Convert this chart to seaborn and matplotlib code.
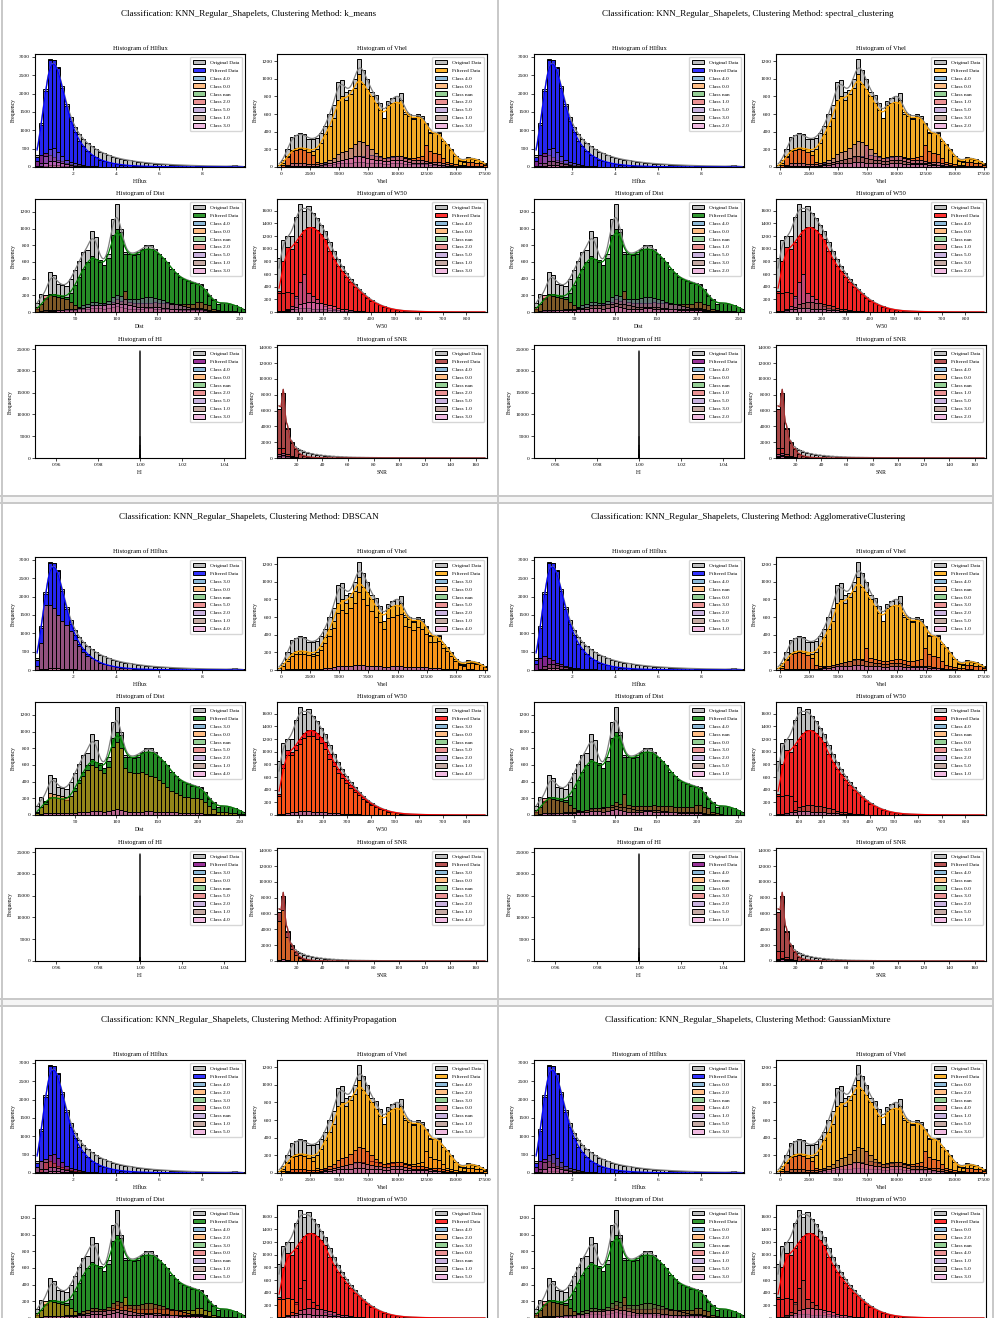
import numpy as np
import pandas as pd
import matplotlib.pyplot as plt
from matplotlib.lines import Line2D
from matplotlib.patches import Rectangle
import seaborn as sns

W, H = 994, 1318
NBINS = 50

METHODS = ["k_means", "spectral_clustering", "DBSCAN",
           "AgglomerativeClustering", "AffinityPropagation", "GaussianMixture"]

# legend order of the classes in every panel
CLASS_ORDER = {
    "k_means": ["4.0", "0.0", "nan", "2.0", "5.0", "1.0", "3.0"],
    "spectral_clustering": ["4.0", "0.0", "nan", "1.0", "5.0", "3.0", "2.0"],
    "DBSCAN": ["3.0", "0.0", "nan", "5.0", "2.0", "1.0", "4.0"],
    "AgglomerativeClustering": ["4.0", "nan", "0.0", "3.0", "2.0", "5.0", "1.0"],
    "AffinityPropagation": ["4.0", "2.0", "3.0", "0.0", "nan", "1.0", "5.0"],
    "GaussianMixture": ["0.0", "2.0", "nan", "4.0", "1.0", "5.0", "3.0"],
}
# which class profile (A main, B second, C spread, T tiny, X dominant) each class has
CLASS_PROFILE = {
    "k_means": ["T", "T", "T", "A", "B", "T", "C"],
    "spectral_clustering": ["T", "T", "T", "A", "B", "C", "T"],
    "DBSCAN": ["T", "X", "T", "T", "T", "T", "T"],
    "AgglomerativeClustering": ["T", "T", "T", "A", "T", "C", "T"],
    "AffinityPropagation": ["T", "A", "T", "B", "C", "T", "T"],
    "GaussianMixture": ["T", "T", "T", "A", "T", "B", "C"],
}

# ---- HIflux (50 bins, 0.25 .. 9.98)
HIFLUX_ORIG = [320, 1200, 2110, 2930, 2920, 2720, 2200, 1720, 1350, 1080, 900, 760, 640, 560, 480, 420, 370, 320, 280, 250,
               220, 200, 180, 160, 145, 130, 118, 105, 95, 88, 80, 72, 66, 60, 55, 50, 46, 42, 38, 35,
               32, 30, 28, 26, 24, 22, 21, 45, 18, 16]
HIFLUX_FILT = [260, 1150, 2080, 2920, 2900, 2700, 2150, 1650, 1250, 950, 720, 560, 430, 330, 260, 200, 160, 125, 100, 80,
               65, 52, 42, 35, 28, 24, 20, 17, 14, 12, 10, 9, 8, 7, 6, 5, 5, 4, 4, 3, 3, 3, 2, 2, 2, 2, 1, 2, 1, 1]
HIFLUX_A = [150, 330, 380, 330, 260, 200, 150, 110, 80, 60, 45, 35, 25, 20, 15, 12, 10, 8, 6, 5]
HIFLUX_B = [20, 120, 300, 500, 530, 420, 300, 200, 140, 100, 70, 50, 35, 25, 18, 12, 8, 5, 3, 2]
HIFLUX_C = [5, 40, 100, 150, 160, 130, 100, 70, 50, 35, 25, 18, 12, 8, 5, 3, 2]
HIFLUX_T = [5, 20, 40, 60, 60, 50, 40, 30, 20, 15, 10, 8, 6, 4, 3, 2, 1]
HIFLUX_X = [100, 730, 1770, 1770, 1680, 1510, 1330, 1230, 1055, 830, 640, 500, 385, 320, 260, 200, 160, 125, 100, 80,
            65, 52, 42, 35, 28, 24, 20, 17, 14, 12, 10, 9, 8, 7, 6, 5]

# ---- Vhel (50 bins, -374 .. 17700)
VHEL_ORIG = [20, 80, 200, 340, 360, 380, 370, 320, 315, 330, 380, 470, 600, 700, 960, 990, 850, 870, 1000, 1220,
             1100, 1000, 850, 820, 720, 560, 750, 780, 810, 840, 620, 600, 560, 600, 580, 500, 400, 390, 400, 300,
             260, 200, 130, 80, 70, 110, 100, 90, 70, 40]
VHEL_FILT = [0, 50, 120, 190, 210, 220, 215, 200, 185, 200, 270, 370, 460, 560, 760, 800, 760, 830, 900, 1050,
             940, 880, 800, 720, 650, 560, 700, 720, 740, 760, 600, 580, 540, 580, 560, 490, 380, 380, 390, 300,
             250, 190, 120, 70, 60, 100, 95, 85, 65, 35]
VHEL_A = [0, 20, 110, 180, 190, 200, 190, 170, 140, 60, 40, 40, 50, 60, 70, 80, 90, 100, 110, 120,
          130, 250, 140, 120, 110, 100, 100, 110, 120, 120, 110, 100, 100, 110, 120, 250, 180, 160, 150, 100,
          60, 40, 30, 20, 20, 60, 60, 50, 40, 20]
VHEL_B = [0, 5, 20, 40, 40, 40, 40, 35, 30, 30, 40, 60, 80, 100, 150, 170, 180, 220, 260, 300,
          280, 250, 200, 160, 130, 100, 110, 120, 120, 120, 100, 90, 80, 80, 80, 70, 60, 55, 55, 40,
          30, 25, 15, 10, 8, 12, 12, 10, 8, 4]
VHEL_C = [0, 0, 5, 10, 10, 10, 10, 10, 10, 15, 20, 30, 40, 60, 70, 80, 90, 100, 120, 130,
          110, 100, 90, 80, 80, 70, 70, 80, 80, 80, 70, 60, 50, 50, 50, 45, 40, 30, 25, 20,
          15, 10, 8, 5, 5, 5, 5, 3, 2, 1]
VHEL_T = [0, 2, 8, 12, 12, 12, 12, 10, 10, 12, 15, 20, 25, 30, 40, 45, 45, 50, 55, 60,
          55, 50, 45, 40, 40, 35, 35, 40, 40, 40, 35, 30, 30, 30, 30, 30, 25, 20, 20, 15,
          12, 10, 8, 5, 5, 6, 6, 5, 4, 2]
VHEL_X = [0, 40, 100, 160, 180, 185, 180, 170, 155, 170, 230, 310, 390, 480, 650, 680, 650, 700, 760, 880,
          800, 740, 670, 600, 540, 470, 590, 600, 620, 640, 500, 490, 450, 490, 470, 410, 320, 320, 330, 250,
          210, 160, 100, 60, 50, 85, 80, 70, 55, 30]

# ---- Dist (50 bins, 0.8 .. 256.9)
DIST_ORIG = [110, 216, 170, 480, 440, 340, 320, 310, 390, 500, 610, 720, 740, 970, 900, 620, 560, 700, 1110, 1290,
             1000, 720, 700, 700, 720, 760, 800, 800, 760, 700, 650, 600, 520, 470, 420, 400, 380, 360, 350, 330,
             280, 200, 150, 100, 110, 110, 100, 80, 60, 40]
DIST_FILT = [30, 100, 150, 220, 210, 200, 190, 180, 230, 320, 420, 520, 600, 670, 640, 600, 560, 650, 920, 1000,
             960, 700, 690, 680, 700, 740, 760, 760, 740, 700, 650, 600, 520, 470, 420, 390, 370, 350, 340, 320,
             270, 190, 140, 100, 110, 110, 100, 80, 60, 40]
DIST_A = [60, 100, 200, 200, 190, 180, 170, 150, 120, 80, 60, 50, 60, 70, 80, 80, 90, 100, 120, 150,
          130, 250, 120, 110, 110, 110, 110, 110, 120, 110, 110, 110, 110, 100, 100, 100, 100, 100, 120, 120,
          100, 80, 40, 20, 10, 5, 5, 5, 5, 0]
DIST_B = [0, 5, 10, 20, 20, 20, 20, 20, 25, 40, 60, 80, 100, 120, 120, 110, 110, 130, 180, 200,
          190, 150, 150, 150, 160, 170, 180, 180, 170, 160, 140, 120, 100, 90, 80, 70, 60, 50, 50, 45,
          35, 25, 15, 10, 10, 10, 8, 6, 4, 2]
DIST_C = [0, 0, 5, 10, 15, 20, 25, 30, 35, 40, 45, 50, 60, 80, 80, 80, 80, 90, 100, 110,
          100, 90, 80, 70, 60, 60, 60, 60, 60, 60, 50, 50, 40, 40, 40, 40, 40, 35, 35, 30,
          20, 15, 10, 5, 5, 5, 3, 2, 1, 0]
DIST_T = [5, 10, 20, 25, 25, 20, 20, 20, 20, 25, 30, 35, 40, 50, 50, 45, 40, 45, 60, 70,
          60, 45, 40, 40, 40, 40, 45, 45, 40, 40, 35, 35, 30, 30, 25, 25, 25, 20, 20, 20,
          15, 10, 8, 5, 5, 5, 5, 4, 3, 2]
DIST_X = [20, 90, 130, 260, 250, 240, 230, 220, 230, 290, 380, 470, 540, 600, 580, 540, 500, 580, 820, 870,
          800, 560, 520, 500, 500, 510, 490, 470, 450, 420, 380, 340, 290, 260, 240, 220, 210, 200, 200, 190,
          150, 110, 70, 40, 30, 30, 25, 20, 15, 10]

# ---- W50 (50 bins, 6 .. 886)
W50_ORIG = [850, 1140, 1200, 1200, 1500, 1700, 1600, 1680, 1560, 1480, 1380, 1280, 1100, 960, 830, 720, 620, 520, 440, 370,
            300, 240, 190, 150, 115, 88, 65, 48, 36, 27, 20, 15, 12, 10, 8, 6, 5, 4, 3, 3, 2, 2, 2, 1, 1, 1, 1, 1, 1, 1]
W50_FILT = [330, 800, 1020, 1000, 1100, 1200, 1300, 1340, 1350, 1300, 1230, 1150, 960, 840, 730, 640, 560, 470, 400, 340,
            280, 220, 175, 135, 105, 80, 60, 44, 33, 24, 18, 14, 11, 9, 7, 5, 4, 3, 3, 2, 2, 1, 1, 1, 1, 1, 0, 0, 0, 0]
W50_A = [300, 300, 320, 300, 220, 120, 60, 35, 20, 12, 8, 5, 3, 2, 1]
W50_B = [0, 10, 40, 100, 250, 480, 600, 300, 250, 200, 150, 100, 70, 50, 30, 20, 10, 5]
W50_C = [0, 5, 20, 40, 80, 120, 150, 160, 160, 150, 140, 130, 110, 90, 70, 50, 40, 30, 20, 15, 10, 5]
W50_T = [10, 20, 30, 40, 50, 60, 60, 60, 55, 50, 45, 40, 35, 30, 25, 20, 15, 12, 10, 8, 6, 4, 3, 2, 1]
W50_X = [300, 750, 950, 940, 1030, 1120, 1220, 1250, 1250, 1200, 1130, 1050, 880, 770, 670, 590, 510, 430, 370, 310,
         255, 200, 160, 125, 95, 72, 55, 40, 30, 22, 16, 12, 10, 8, 6, 4, 3, 2, 2, 1]

# ---- SNR (50 bins, 4.5 .. 168.8)
SNR_ORIG = [6210, 8210, 3750, 2000, 1320, 1000, 800, 650, 520, 430, 360, 300, 250, 210, 180, 150, 130, 110, 95, 85,
            75, 65, 58, 52, 46, 40, 36, 32, 28, 25, 22, 20, 18, 16, 14, 13, 12, 11, 10, 9, 8, 7, 6, 6, 5, 5, 4, 4, 3, 3]
SNR_FILT = [6200, 8200, 3700, 1900, 1100, 500, 250, 150, 80, 50, 30, 20, 15, 10, 8, 6, 5, 4, 3, 2, 2, 1, 1, 1, 1]
SNR_A = [1300, 1300, 500, 200, 80, 40, 20, 10, 5]
SNR_B = [500, 600, 300, 120, 50, 20, 10, 5]
SNR_C = [300, 400, 200, 90, 40, 15, 6, 2]
SNR_T = [150, 200, 100, 50, 25, 10, 5, 2]
SNR_X = [5000, 6500, 3000, 1500, 800, 350, 170, 100, 55, 35, 20, 12, 8, 5]

# ---- HI (every value is 1.0)
HI_ORIG = [24700]
HI_FILT = [24500]
HI_A, HI_B, HI_C, HI_T, HI_X = [3000], [5000], [2000], [800], [15000]

VARS = {
    "HIflux": dict(rng=(0.25, 9.98), orig=HIFLUX_ORIG, filt=HIFLUX_FILT, color="blue", bw=0.17,
                   cls=dict(A=HIFLUX_A, B=HIFLUX_B, C=HIFLUX_C, T=HIFLUX_T, X=HIFLUX_X)),
    "Vhel": dict(rng=(-374, 17700), orig=VHEL_ORIG, filt=VHEL_FILT, color="orange", bw=320,
                 cls=dict(A=VHEL_A, B=VHEL_B, C=VHEL_C, T=VHEL_T, X=VHEL_X)),
    "Dist": dict(rng=(0.8, 256.9), orig=DIST_ORIG, filt=DIST_FILT, color="green", bw=4.6,
                 cls=dict(A=DIST_A, B=DIST_B, C=DIST_C, T=DIST_T, X=DIST_X)),
    "W50": dict(rng=(6, 886), orig=W50_ORIG, filt=W50_FILT, color="red", bw=16,
                cls=dict(A=W50_A, B=W50_B, C=W50_C, T=W50_T, X=W50_X)),
    "HI": dict(rng=None, orig=HI_ORIG, filt=HI_FILT, color="purple", bw=None,
               cls=dict(A=HI_A, B=HI_B, C=HI_C, T=HI_T, X=HI_X)),
    "SNR": dict(rng=(4.5, 168.8), orig=SNR_ORIG, filt=SNR_FILT, color="brown", bw=1.3,
                cls=dict(A=SNR_A, B=SNR_B, C=SNR_C, T=SNR_T, X=SNR_X)),
}
GRID = [["HIflux", "Vhel"], ["Dist", "W50"], ["HI", "SNR"]]

CLASS_COLORS = sns.color_palette("tab10", 7)

# pixel layout
PANEL_X = [0, 499]
PANEL_Y = [0, 503, 1006]
AX_LEFT = [35, 277]
AX_TOP = [54, 199, 345]
AX_W, AX_H = 210, 113


def bins_for(spec):
    if spec["rng"] is None:
        return [1.0, 1.0], np.array([1.0])
    edges = np.linspace(spec["rng"][0], spec["rng"][1], NBINS + 1)
    return edges.tolist(), (edges[:-1] + edges[1:]) / 2


def padded(counts, n):
    c = np.zeros(n)
    c[:len(counts)] = counts
    return c


def bw_method(centers, counts, bw):
    w = counts / counts.sum()
    mu = np.sum(w * centers)
    var = np.sum(w * (centers - mu) ** 2) / (1 - np.sum(w ** 2))
    return float(bw / np.sqrt(var))


def hist(ax, centers, counts, edges, color, alpha, kde_bw=None, snap=None):
    df = pd.DataFrame({"v": centers, "w": counts})
    kws = dict(data=df, x="v", weights="w", bins=edges, color=color, alpha=alpha,
               edgecolor="black", linewidth=0.7, ax=ax)
    if snap is not None:
        kws["snap"] = snap
    if kde_bw is not None:
        kws.update(kde=True, kde_kws={"bw_method": bw_method(centers, counts, kde_bw)},
                   line_kws={"linewidth": 0.9})
    sns.histplot(**kws)


def draw_var(ax, var, method):
    spec = VARS[var]
    edges, centers = bins_for(spec)
    n = len(centers)
    snap = False if spec["rng"] is None else None
    orig = padded(spec["orig"], n)
    filt = padded(spec["filt"], n)
    hist(ax, centers, orig, edges, "gray", 0.5, spec["bw"], snap)
    hist(ax, centers, filt, edges, spec["color"], 0.8, spec["bw"], snap)
    labels = ["Original Data", "Filtered Data"]
    for i, (cls, prof) in enumerate(zip(CLASS_ORDER[method], CLASS_PROFILE[method])):
        hist(ax, centers, padded(spec["cls"][prof], n), edges, CLASS_COLORS[i], 0.5, snap=snap)
        labels.append(f"Class {cls}")

    if spec["rng"] is None:
        ax.set_xlim(0.95, 1.05)
    else:
        ax.set_xlim(*spec["rng"])
    if var == "SNR":
        ax.set_ylim(0, 14300)
    ax.set_title(f"Histogram of {var}", fontsize=4.8, pad=3)
    ax.set_xlabel(var, fontsize=4.1, labelpad=2)
    ax.set_ylabel("Frequency", fontsize=4.1, labelpad=2.5)
    ax.tick_params(axis="both", labelsize=3.9, length=2, width=0.5, pad=1.5)
    for s in ax.spines.values():
        s.set_linewidth(0.8)
    ax.legend(ax.containers, labels, loc="upper right", fontsize=3.9, labelspacing=0.52,
              handlelength=2.3, handleheight=0.9, borderpad=0.55, handletextpad=0.9)


def main():
    plt.rcParams["font.family"] = ["Liberation Serif", "DejaVu Serif"]
    fig = plt.figure(figsize=(W / 100, H / 100), dpi=100)
    fig.patch.set_facecolor("white")

    # panel frames
    border = "#c8c8c8"
    for yb in [496, 999]:
        fig.add_artist(Rectangle((0, 1 - (yb + 7) / H), 1, 7 / H, transform=fig.transFigure,
                                 facecolor="#f5f5f5", edgecolor="none", zorder=-1))
        for yl in [yb, yb + 7]:
            fig.add_artist(Line2D([0, 1], [1 - yl / H] * 2, transform=fig.transFigure, color=border, lw=1.4))
    for xl in [1.5, 497.5, 993]:
        fig.add_artist(Line2D([xl / W] * 2, [0, 1], transform=fig.transFigure, color=border, lw=1.4))

    for k, method in enumerate(METHODS):
        px0, py0 = PANEL_X[k % 2], PANEL_Y[k // 2]
        fig.text((px0 + 249) / W, 1 - (py0 + 14) / H,
                 f"Classification: KNN_Regular_Shapelets, Clustering Method: {method}",
                 ha="center", va="center", fontsize=6.5)
        for r, row in enumerate(GRID):
            for c, var in enumerate(row):
                x = px0 + AX_LEFT[c]
                y = py0 + AX_TOP[r]
                ax = fig.add_axes([x / W, 1 - (y + AX_H) / H, AX_W / W, AX_H / H])
                draw_var(ax, var, method)

    fig.savefig("out.png", dpi=100)


if __name__ == "__main__":
    main()
